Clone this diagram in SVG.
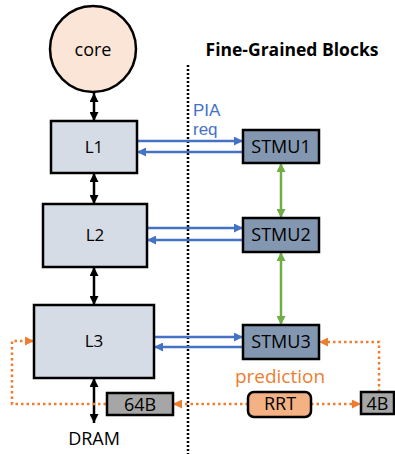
<svg xmlns="http://www.w3.org/2000/svg" width="395" height="454" viewBox="0 0 395 454">
<style>
text{font-family:"Open Sans","Liberation Sans",sans-serif;font-size:18px;text-anchor:middle;fill:#000}
.box{stroke:#000;stroke-width:2.5}
.l{fill:#d6dce5}
.s{fill:#8497b0}
.g{fill:#a6a6a6}
.bk{stroke:#000;stroke-width:2.5;fill:none}
.bl{stroke:#4472c4;stroke-width:2.5;fill:none}
.gr{stroke:#70ad47;stroke-width:2.5;fill:none}
.or{stroke:#ed7d31;stroke-width:2.5;fill:none;stroke-dasharray:2.5 3}
.pia{font-family:"Liberation Sans",Arial,sans-serif;font-size:17px;text-anchor:start;fill:#4472c4}
</style>
<defs>
<marker id="ak" viewBox="0 0 10 10" refX="10" refY="5" markerWidth="9" markerHeight="9" markerUnits="userSpaceOnUse" orient="auto-start-reverse"><path d="M0,0 L10,5 L0,10 z" fill="#000"/></marker>
<marker id="ab" viewBox="0 0 10 10" refX="10" refY="5" markerWidth="10" markerHeight="9" markerUnits="userSpaceOnUse" orient="auto"><path d="M0,0 L10,5 L0,10 z" fill="#4472c4"/></marker>
<marker id="ag" viewBox="0 0 10 10" refX="10" refY="5" markerWidth="9" markerHeight="9" markerUnits="userSpaceOnUse" orient="auto-start-reverse"><path d="M0,0 L10,5 L0,10 z" fill="#70ad47"/></marker>
<marker id="ao" viewBox="0 0 10 10" refX="10" refY="5" markerWidth="9" markerHeight="9" markerUnits="userSpaceOnUse" orient="auto"><path d="M0,0 L10,5 L0,10 z" fill="#ed7d31"/></marker>
</defs>
<line x1="188" y1="65" x2="188" y2="454" stroke="#000" stroke-width="2.5" stroke-dasharray="2 2"/>
<text x="292" y="56" style="font-weight:bold;font-size:17.5px">Fine-Grained Blocks</text>
<g id="connectors">
<line class="bk" x1="94" y1="93" x2="94" y2="121" marker-start="url(#ak)" marker-end="url(#ak)"/>
<line class="bk" x1="94" y1="173" x2="94" y2="204" marker-start="url(#ak)" marker-end="url(#ak)"/>
<line class="bk" x1="94" y1="267" x2="94" y2="305" marker-start="url(#ak)" marker-end="url(#ak)"/>
<line class="bk" x1="94" y1="378" x2="94" y2="423" marker-start="url(#ak)" marker-end="url(#ak)"/>
<line class="bl" x1="137" y1="141" x2="243" y2="141" marker-end="url(#ab)"/>
<line class="bl" x1="243" y1="152" x2="137" y2="152" marker-end="url(#ab)"/>
<line class="bl" x1="147" y1="228" x2="243" y2="228" marker-end="url(#ab)"/>
<line class="bl" x1="243" y1="240" x2="147" y2="240" marker-end="url(#ab)"/>
<line class="bl" x1="154" y1="337" x2="243" y2="337" marker-end="url(#ab)"/>
<line class="bl" x1="243" y1="347" x2="154" y2="347" marker-end="url(#ab)"/>
<line class="gr" x1="281" y1="163" x2="281" y2="218" marker-start="url(#ag)" marker-end="url(#ag)"/>
<line class="gr" x1="281" y1="252" x2="281" y2="325" marker-start="url(#ag)" marker-end="url(#ag)"/>
<path class="or" d="M379,392 V342 H319" marker-end="url(#ao)"/>
<path class="or" d="M106,404 H12 V341 H34" marker-end="url(#ao)"/>
<line class="or" x1="248" y1="404" x2="173" y2="404" marker-end="url(#ao)"/>
<line class="or" x1="311" y1="404" x2="361" y2="404" marker-end="url(#ao)"/>
<text class="pia" x="193" y="116">PIA</text>
<text class="pia" x="193" y="135">req</text>
<text x="280" y="383" style="fill:#ed7d31;font-size:19px">prediction</text>
</g>
<g id="core"><circle cx="93" cy="49" r="43" fill="#fbe5d6" class="box"/><text x="93" y="56">core</text></g>
<g id="L1"><rect x="51" y="121" width="86" height="52" class="box l"/><text x="94" y="153" style="font-size:17px">L1</text></g>
<g id="L2"><rect x="43" y="204" width="104" height="63" class="box l"/><text x="95" y="241" style="font-size:17px">L2</text></g>
<g id="L3"><rect x="34" y="305" width="120" height="73" class="box l"/><text x="94" y="347" style="font-size:17px">L3</text></g>
<g id="STMU1"><rect x="243" y="130" width="76" height="33" class="box s"/><text x="281" y="153">STMU1</text></g>
<g id="STMU2"><rect x="243" y="218" width="76" height="34" class="box s"/><text x="281" y="241">STMU2</text></g>
<g id="STMU3"><rect x="243" y="325" width="76" height="34" class="box s"/><text x="281" y="348">STMU3</text></g>
<g id="b64"><rect x="107" y="393" width="66" height="22" class="box g"/><text x="140" y="411">64B</text></g>
<g id="RRT"><rect x="248" y="392" width="63" height="25" rx="6" fill="#f4b183" class="box"/><text x="280" y="410">RRT</text></g>
<g id="b4"><rect x="361" y="392" width="33" height="22" class="box g"/><text x="377.5" y="410">4B</text></g>
<g id="DRAM"><text x="94" y="445">DRAM</text></g>
</svg>
